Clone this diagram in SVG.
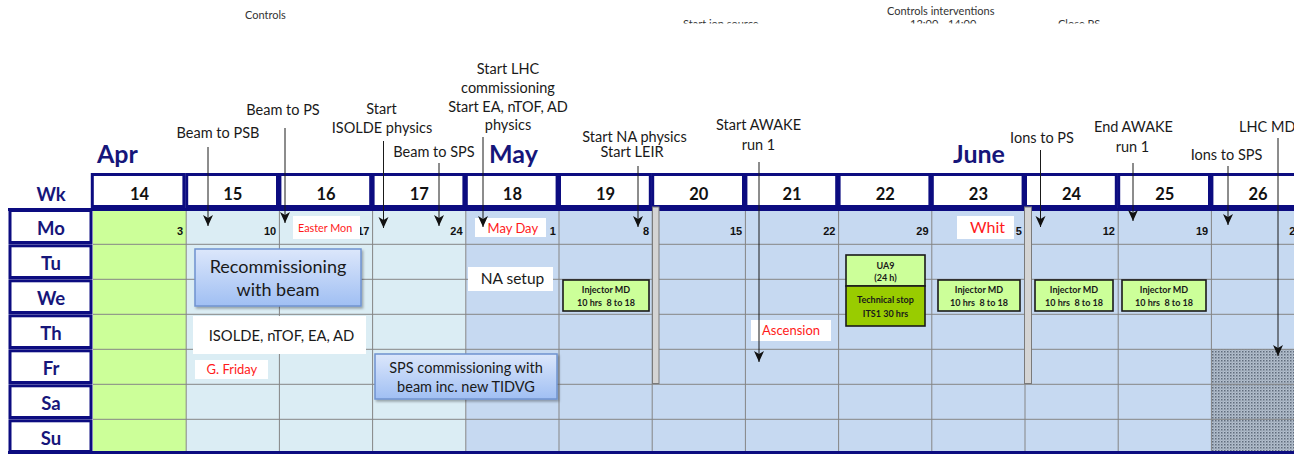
<svg xmlns="http://www.w3.org/2000/svg" width="1294" height="454" viewBox="0 0 1294 454">
  <style>
    .t { font-family: Lato, "Liberation Sans", sans-serif; fill: #1a1a1a; }
    .ann { font-size: 14.5px; text-anchor: middle; }
    .small { font-size: 11px; fill: #333; }
    .month { font-family: Lato, "Liberation Sans", sans-serif; font-weight: bold; font-size: 25px; fill: #16167a; }
    .daylbl { font-family: Lato, "Liberation Sans", sans-serif; font-weight: bold; font-size: 18.5px; fill: #16167a; text-anchor: middle; }
    .wknum { font-family: Lato, "Liberation Sans", sans-serif; font-weight: bold; font-size: 16.5px; fill: #111; text-anchor: middle; }
    .date { font-family: "Liberation Sans", Arial, sans-serif; font-weight: bold; font-size: 11px; fill: #111; text-anchor: end; }
    .navybox { fill: #fff; stroke: #0c0c80; stroke-width: 3; }
    .grid { stroke: #858585; stroke-width: 1; fill: none; }
    .navyline { stroke: #0c0c80; stroke-width: 3; }
    .whitebox { fill: #fff; }
    .red { font-family: Lato, "Liberation Sans", sans-serif; fill: #ff1a1a; }
    .bluebox { fill: url(#blueGrad); stroke: #6f93cf; stroke-width: 1.5; filter: url(#shadow); }
    .mdbox { fill: #ccff99; stroke: #1a1a1a; stroke-width: 1.6; }
    .stopbox { fill: #99cc00; stroke: #1a1a1a; stroke-width: 1.6; }
    .mdtxt { font-family: Lato, "Liberation Sans", sans-serif; font-weight: bold; font-size: 9px; fill: #1a1a1a; text-anchor: middle; }
    .bar { fill: #d4d4d4; stroke: #7a7a7a; stroke-width: 1; }
    .arrow { stroke: #1a1a1a; stroke-width: 1; fill: none; marker-end: url(#head); }
  </style>
  <defs>
    <linearGradient id="blueGrad" x1="0" y1="0" x2="0" y2="1">
      <stop offset="0" stop-color="#dce7fb"/>
      <stop offset="1" stop-color="#a0bff3"/>
    </linearGradient>
    <filter id="shadow" x="-10%" y="-10%" width="130%" height="140%">
      <feDropShadow dx="1.5" dy="2" stdDeviation="1.2" flood-color="#000" flood-opacity="0.3"/>
    </filter>
    <pattern id="dots" width="3" height="3" patternUnits="userSpaceOnUse">
      <rect width="3" height="3" fill="#b3bfcd"/>
      <rect width="1.5" height="1.5" fill="#5f6b7c"/>
      <rect x="1.5" y="1.5" width="1" height="1" fill="#8290a2"/>
    </pattern>
    <marker id="head" markerWidth="12" markerHeight="11" refX="11" refY="5" orient="auto" markerUnits="userSpaceOnUse">
      <path d="M0,0 L11,5 L0,10 L3,5 z" fill="#111"/>
    </marker>
    <clipPath id="topClip">
      <rect x="0" y="0" width="1294" height="23.5"/>
    </clipPath>
  </defs>

  <!-- top notes, cut by the sheet edge -->
  <g id="top-notes">
    <text class="t small" x="245" y="19">Controls</text>
    <text class="t small" x="887" y="15">Controls interventions</text>
    <g clip-path="url(#topClip)">
      <text class="t small" x="683" y="28.3">Start ion source</text>
      <text class="t small" x="910" y="28.3">12:00 - 14:00</text>
      <text class="t small" x="1058" y="28.3">Close PS</text>
    </g>
  </g>

  <!-- calendar body -->
  <g id="body">
    <rect x="93" y="209" width="93.2" height="243" fill="#ccff99"/>
    <rect x="186.2" y="209" width="279.6" height="243" fill="#dbedf4"/>
    <rect x="465.8" y="209" width="840" height="243" fill="#c6d9f1"/>
    <rect x="1211.4" y="349" width="90" height="103" fill="url(#dots)"/>
    <!-- row lines -->
    <path class="grid" d="M93,244.3H1294M93,279.3H1294M93,314.3H1294M93,349.3H1294M93,384.3H1294M93,419.3H1294"/>
    <!-- week separators -->
    <path class="grid" d="M186.2,209V452M279.4,209V452M372.6,209V452M465.8,209V452M559,209V452M652.2,209V452M745.4,209V452M838.6,209V452M931.8,209V452M1025,209V452M1118.2,209V452M1211.4,209V452"/>
    <line class="navyline" x1="8" y1="209.5" x2="1294" y2="209.5"/>
    <line class="navyline" x1="8" y1="452.5" x2="1294" y2="452.5"/>
  </g>

  <!-- dates of the Mondays -->
  <g id="dates">
    <text class="date" x="183" y="235">3</text>
    <text class="date" x="276.2" y="235">10</text>
    <text class="date" x="369.4" y="235">17</text>
    <text class="date" x="462.6" y="235">24</text>
    <text class="date" x="555.8" y="235">1</text>
    <text class="date" x="649" y="235">8</text>
    <text class="date" x="742.2" y="235">15</text>
    <text class="date" x="835.4" y="235">22</text>
    <text class="date" x="928.6" y="235">29</text>
    <text class="date" x="1021.8" y="235">5</text>
    <text class="date" x="1115" y="235">12</text>
    <text class="date" x="1208.2" y="235">19</text>
    <text class="date" x="1301.4" y="235">26</text>
  </g>

  <!-- week header -->
  <g id="week-header">
    <text class="daylbl" x="51" y="201">Wk</text>
    <rect class="navybox" x="92.3" y="174.5" width="91.6" height="32"/>
    <rect class="navybox" x="186.7" y="174.5" width="90.8" height="32"/>
    <rect class="navybox" x="279.9" y="174.5" width="90.8" height="32"/>
    <rect class="navybox" x="373.1" y="174.5" width="90.8" height="32"/>
    <rect class="navybox" x="466.3" y="174.5" width="90.8" height="32"/>
    <rect class="navybox" x="559.5" y="174.5" width="90.8" height="32"/>
    <rect class="navybox" x="652.7" y="174.5" width="90.8" height="32"/>
    <rect class="navybox" x="745.9" y="174.5" width="90.8" height="32"/>
    <rect class="navybox" x="839.1" y="174.5" width="90.8" height="32"/>
    <rect class="navybox" x="932.3" y="174.5" width="90.8" height="32"/>
    <rect class="navybox" x="1025.5" y="174.5" width="90.8" height="32"/>
    <rect class="navybox" x="1118.7" y="174.5" width="90.8" height="32"/>
    <rect class="navybox" x="1211.9" y="174.5" width="90.8" height="32"/>
    <text class="wknum" x="139.6" y="200">14</text>
    <text class="wknum" x="232.8" y="200">15</text>
    <text class="wknum" x="326" y="200">16</text>
    <text class="wknum" x="419.2" y="200">17</text>
    <text class="wknum" x="512.4" y="200">18</text>
    <text class="wknum" x="605.6" y="200">19</text>
    <text class="wknum" x="698.8" y="200">20</text>
    <text class="wknum" x="792" y="200">21</text>
    <text class="wknum" x="885.2" y="200">22</text>
    <text class="wknum" x="978.4" y="200">23</text>
    <text class="wknum" x="1071.6" y="200">24</text>
    <text class="wknum" x="1164.8" y="200">25</text>
    <text class="wknum" x="1258" y="200">26</text>
  </g>

  <!-- months -->
  <g id="months">
    <text class="month" x="97" y="163">Apr</text>
    <text class="month" x="489" y="163">May</text>
    <text class="month" x="953" y="163">June</text>
  </g>

  <!-- day names -->
  <g id="days">
    <rect class="navybox" x="10" y="210.5" width="81" height="32"/>
    <rect class="navybox" x="10" y="245.8" width="81" height="31.7"/>
    <rect class="navybox" x="10" y="280.8" width="81" height="31.7"/>
    <rect class="navybox" x="10" y="315.8" width="81" height="31.7"/>
    <rect class="navybox" x="10" y="350.8" width="81" height="31.7"/>
    <rect class="navybox" x="10" y="385.8" width="81" height="31.7"/>
    <rect class="navybox" x="10" y="420.8" width="81" height="30.7"/>
    <text class="daylbl" x="51" y="235">Mo</text>
    <text class="daylbl" x="51" y="270">Tu</text>
    <text class="daylbl" x="51" y="305">We</text>
    <text class="daylbl" x="51" y="340">Th</text>
    <text class="daylbl" x="51" y="375">Fr</text>
    <text class="daylbl" x="51" y="410">Sa</text>
    <text class="daylbl" x="51" y="445">Su</text>
  </g>

  <!-- technical stop markers -->
  <g id="stop-bars">
    <rect class="bar" x="652.5" y="207" width="6.5" height="176.5"/>
    <rect class="bar" x="1024.5" y="207" width="7" height="176.5"/>
  </g>

  <!-- holidays -->
  <g id="easter-mon">
    <rect class="whitebox" x="293" y="216" width="67" height="23"/>
    <text class="red" x="298" y="232" font-size="10.8">Easter Mon</text>
  </g>
  <g id="g-friday">
    <rect class="whitebox" x="195" y="360" width="73" height="19"/>
    <text class="red" x="206.5" y="374" font-size="13">G. Friday</text>
  </g>
  <g id="may-day">
    <rect class="whitebox" x="475" y="218" width="71" height="19"/>
    <text class="red" x="487.5" y="233" font-size="13">May Day</text>
  </g>
  <g id="ascension">
    <rect class="whitebox" x="751" y="320" width="80" height="21"/>
    <text class="red" x="762" y="335" font-size="13">Ascension</text>
  </g>
  <g id="whit">
    <rect class="whitebox" x="957" y="216" width="57" height="23"/>
    <text class="red" x="970" y="233" font-size="16">Whit</text>
  </g>

  <!-- activity boxes -->
  <g id="recommissioning">
    <rect class="bluebox" x="195" y="249" width="166" height="57"/>
    <text class="t" x="278" y="273" font-size="18" text-anchor="middle">Recommissioning</text>
    <text class="t" x="278" y="296" font-size="18" text-anchor="middle">with beam</text>
  </g>
  <g id="isolde">
    <rect class="whitebox" x="193" y="316" width="173" height="38"/>
    <text class="t" x="281.5" y="341" font-size="14.8" text-anchor="middle">ISOLDE, nTOF, EA, AD</text>
  </g>
  <g id="sps-commissioning">
    <rect class="bluebox" x="375" y="354" width="182" height="45"/>
    <text class="t" x="466" y="373" font-size="14.5" text-anchor="middle">SPS commissioning with</text>
    <text class="t" x="466" y="392" font-size="14.5" text-anchor="middle">beam inc. new TIDVG</text>
  </g>
  <g id="na-setup">
    <rect class="whitebox" x="468" y="267" width="85" height="24"/>
    <text class="t" x="512.5" y="283.5" font-size="15.5" text-anchor="middle">NA setup</text>
  </g>
  <g id="injector-md-19">
    <rect class="mdbox" x="563" y="280" width="86" height="31"/>
    <text class="mdtxt" x="606" y="292.5">Injector MD</text>
    <text class="mdtxt" x="606" y="305.5" xml:space="preserve">10 hrs  8 to 18</text>
  </g>
  <g id="ua9">
    <rect class="mdbox" x="846" y="255" width="79" height="31"/>
    <text class="mdtxt" x="885.5" y="268.5">UA9</text>
    <text class="mdtxt" x="885.5" y="281">(24 h)</text>
  </g>
  <g id="technical-stop">
    <rect class="stopbox" x="846" y="286" width="79" height="40"/>
    <text class="mdtxt" x="885.5" y="303">Technical stop</text>
    <text class="mdtxt" x="885.5" y="316.5">ITS1 30 hrs</text>
  </g>
  <g id="injector-md-23">
    <rect class="mdbox" x="938" y="280" width="82" height="31"/>
    <text class="mdtxt" x="979" y="292.5">Injector MD</text>
    <text class="mdtxt" x="979" y="305.5" xml:space="preserve">10 hrs  8 to 18</text>
  </g>
  <g id="injector-md-24">
    <rect class="mdbox" x="1035" y="280" width="78" height="31"/>
    <text class="mdtxt" x="1074" y="292.5">Injector MD</text>
    <text class="mdtxt" x="1074" y="305.5" xml:space="preserve">10 hrs  8 to 18</text>
  </g>
  <g id="injector-md-25">
    <rect class="mdbox" x="1122" y="280" width="84" height="31"/>
    <text class="mdtxt" x="1164" y="292.5">Injector MD</text>
    <text class="mdtxt" x="1164" y="305.5" xml:space="preserve">10 hrs  8 to 18</text>
  </g>

  <!-- milestone labels -->
  <g id="milestones">
    <text class="t ann" x="218" y="138">Beam to PSB</text>
    <text class="t ann" x="283" y="115">Beam to PS</text>
    <text class="t ann" x="381.5" y="114">Start</text>
    <text class="t ann" x="382" y="133">ISOLDE physics</text>
    <text class="t ann" x="434" y="157">Beam to SPS</text>
    <text class="t ann" x="508" y="74">Start LHC</text>
    <text class="t ann" x="508" y="92.5">commissioning</text>
    <text class="t ann" x="508" y="111.5">Start EA, nTOF, AD</text>
    <text class="t ann" x="508" y="130">physics</text>
    <text class="t ann" x="634.5" y="142">Start NA physics</text>
    <text class="t ann" x="632" y="157">Start LEIR</text>
    <text class="t ann" x="758.5" y="130">Start AWAKE</text>
    <text class="t ann" x="758.5" y="150">run 1</text>
    <text class="t ann" x="1042" y="143">Ions to PS</text>
    <text class="t ann" x="1133.5" y="132">End AWAKE</text>
    <text class="t ann" x="1132.5" y="151.5">run 1</text>
    <text class="t ann" x="1226.5" y="160">Ions to SPS</text>
    <text class="t" x="1239" y="132" font-size="14.5">LHC MD1</text>
  </g>

  <!-- connectors -->
  <g id="connectors">
    <line class="arrow" x1="208" y1="147" x2="208" y2="226"/>
    <line class="arrow" x1="285" y1="128" x2="285" y2="223"/>
    <line class="arrow" x1="383.5" y1="141" x2="383.5" y2="228"/>
    <line class="arrow" x1="439" y1="163" x2="439" y2="226"/>
    <line class="arrow" x1="483" y1="137" x2="483" y2="227"/>
    <line class="arrow" x1="638" y1="166" x2="638" y2="227"/>
    <line class="arrow" x1="759" y1="162" x2="759" y2="362"/>
    <line class="arrow" x1="1040.5" y1="150" x2="1040.5" y2="227"/>
    <line class="arrow" x1="1133" y1="163" x2="1133" y2="221"/>
    <line class="arrow" x1="1228" y1="166" x2="1228" y2="225"/>
    <line class="arrow" x1="1278" y1="138" x2="1278" y2="356"/>
  </g>
</svg>
